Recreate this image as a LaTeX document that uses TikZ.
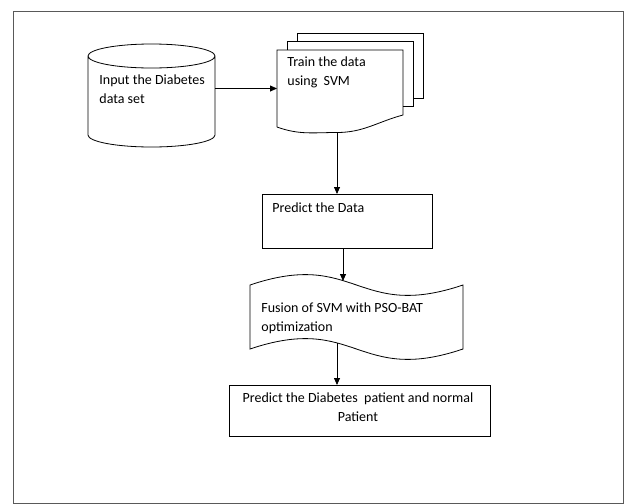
\documentclass[tikz,border=0pt]{standalone}
\usepackage{fontspec}
\setmainfont{Carlito}
\usetikzlibrary{positioning,arrows.meta}

\begin{document}
\begin{tikzpicture}[x=1pt, y=-1pt, line width=0.8pt,
    font=\fontsize{14}{18.5}\selectfont,
    area/.style={inner sep=0pt, outer sep=0pt},
    stepbox/.style={draw, inner sep=0pt, outer sep=0pt},
    txt/.style={inner sep=0pt, align=left, anchor=north west},
    flow/.style={-{Triangle[length=7pt, width=6pt]}}]
    \useasboundingbox (0,0) rectangle (633,504);
    % Draw outer frame
    \draw[line width=1pt, black!65] (13,11) rectangle (623,503);

    % Draw the data set (cylinder)
    \node[area, minimum width=127pt, minimum height=79pt] (data) at (151.5,95.5) {};
    \draw (data.north west) -- (data.south west)
        arc[start angle=180, end angle=360, x radius=63.5pt, y radius=12pt]
        -- (data.north east)
        arc[start angle=0, end angle=360, x radius=63.5pt, y radius=12pt];
    \node[txt] (datatext) at (99,74.5) {Input the Diabetes\\data set};

    % Draw the stack of documents
    \node[area, minimum width=126pt, minimum height=77pt] (train) at (340,88.5) {};
    \coordinate (trainbot) at (337,132.5);
    \draw ([xshift=20pt, yshift=8.5pt]train.north west) -- ++(0,-8.5) -- ++(126,0) -- ++(0,65) -- ++(-10,0);
    \draw ([xshift=10pt]train.north west) -- ++(0,-8.5) -- ++(126,0) -- ++(0,65) -- ++(-10,0);
    \draw (train.south west) -- (train.north west) -- (train.north east)
        -- ([yshift=-65pt]train.north east) to[out=195, in=0] (trainbot)
        to[out=180, in=-20] (train.south west);
    \node[txt] (traintext) at (287,56.5) {Train the data\\using~~SVM};

    % Draw the predict box
    \node[stepbox, minimum width=170pt, minimum height=54pt] (predict) at (347,221) {};
    \node[txt] (predicttext) at (272,202.5) {Predict the Data};

    % Draw the tape
    \node[area, minimum width=213pt, minimum height=64pt] (fusion) at (356.5,317) {};
    \coordinate (fusiontop) at (343,281);
    \coordinate (fusionbot) at (337,343);
    \draw (fusion.north west) .. controls +(106.5,-36) and +(-106.5,36) .. (fusion.north east)
        -- (fusion.south east) .. controls +(-106.5,36) and +(106.5,-36) .. (fusion.south west)
        -- cycle;
    \node[txt] (fusiontext) at (261,302.5) {Fusion of SVM with PSO-BAT\\optimization};

    % Draw the result box
    \node[stepbox, minimum width=261pt, minimum height=51pt] (result) at (359.5,410.5) {};
    \node[inner sep=0pt, align=center, anchor=north] (resulttext) at (358,392.5)
        {Predict the Diabetes~~patient and normal\\Patient};

    % Arrows
    \draw[flow] (data.east |- train.west) -- (train.west);
    \draw[flow] (trainbot) -- (trainbot |- predict.north);
    \draw[flow] (predict.south -| fusiontop) -- (fusiontop);
    \draw[flow] (fusionbot) -- (fusionbot |- result.north);
\end{tikzpicture}
\end{document}
